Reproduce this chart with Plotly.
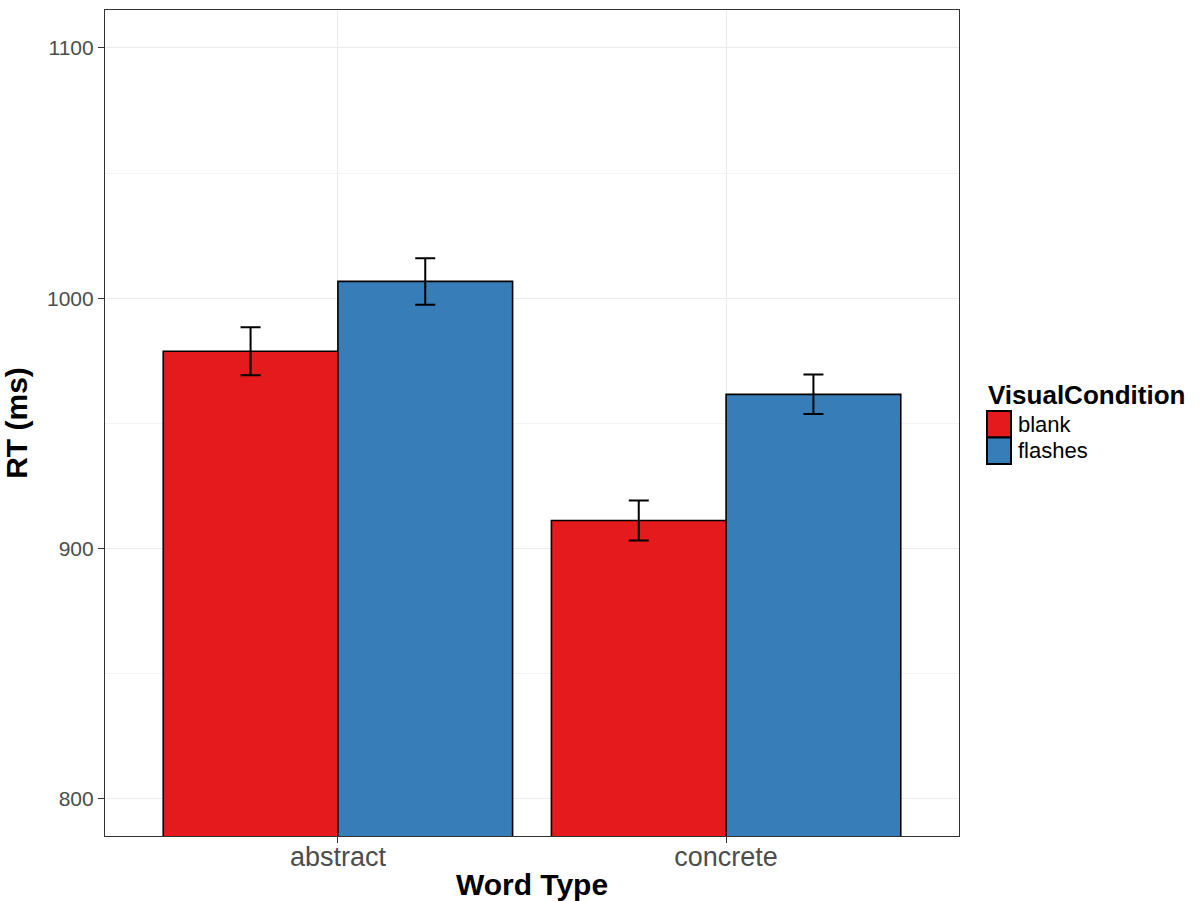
import plotly.graph_objects as go

# Mean reaction times by word type and visual condition, with error bars
word_types = ["abstract", "concrete"]
conditions = ["blank", "flashes"]
rt_blank = [978.8, 911.2]
rt_flashes = [1006.7, 961.6]
err_blank = [9.6, 8.0]
err_flashes = [9.3, 7.9]
colors = {"blank": "#E41A1C", "flashes": "#377EB8"}

y_ticks = [800, 900, 1000, 1100]

FONT = "Arial, Liberation Sans, sans-serif"

W, H = 1204, 901
ML, MR, MT, MB = 105, 245, 10, 65

fig = go.Figure()
for name, vals, errs in [("blank", rt_blank, err_blank),
                         ("flashes", rt_flashes, err_flashes)]:
    fig.add_trace(go.Bar(
        x=word_types, y=vals, name=name,
        marker=dict(color=colors[name], line=dict(color="black", width=1.6)),
        error_y=dict(type="data", array=errs, color="black",
                     thickness=2, width=10),
        showlegend=False,
    ))

fig.update_layout(
    width=W, height=H,
    margin=dict(l=ML, r=MR, t=MT, b=MB),
    paper_bgcolor="white", plot_bgcolor="white",
    barmode="group", bargap=0.1, bargroupgap=0,
    font=dict(family=FONT, color="#4D4D4D"),
)

fig.update_xaxes(
    range=[-0.6, 1.6], showgrid=True, gridcolor="#EBEBEB", gridwidth=1.2,
    showline=True, mirror=True, linecolor="#333333", linewidth=1.2,
    ticks="outside", ticklen=6, tickcolor="#333333", tickwidth=1.2,
    ticklabelstandoff=-10,
    tickfont=dict(size=27, color="#4D4D4D", family=FONT),
    title=dict(text="<b>Word Type</b>", font=dict(size=30, color="black", family=FONT),
               standoff=12),
    zeroline=False, automargin=False,
)
fig.update_yaxes(
    range=[785.2, 1115.1], tickvals=y_ticks, ticktext=[str(v) for v in y_ticks],
    showgrid=True, gridcolor="#EBEBEB", gridwidth=1.2,
    minor=dict(tickvals=[850, 950, 1050], showgrid=True, gridcolor="#F3F3F3", gridwidth=0.8),
    showline=True, mirror=True, linecolor="#333333", linewidth=1.2,
    ticks="outside", ticklen=6, tickcolor="#333333", tickwidth=1.2,
    tickfont=dict(size=21, color="#4D4D4D", family=FONT),
    title=dict(text="<b>RT (ms)</b>", font=dict(size=30, color="black", family=FONT),
               standoff=12),
    zeroline=False, automargin=False,
)

plot_w = W - ML - MR
plot_h = H - MT - MB


def px_x(x):
    return (x - ML) / plot_w


def px_y(y):
    return (H - MB - y) / plot_h


# Legend drawn as keys and labels to the right of the panel
fig.add_annotation(
    x=px_x(986), y=px_y(395), xref="paper", yref="paper", text="<b>VisualCondition</b>",
    showarrow=False, xanchor="left", yanchor="middle",
    font=dict(size=26, color="black", family=FONT),
)
key_top = 411
key_h = 26.5
for i, name in enumerate(conditions):
    y0 = key_top + i * key_h
    fig.add_shape(
        type="rect", xref="paper", yref="paper",
        x0=px_x(987), x1=px_x(1011), y0=px_y(y0), y1=px_y(y0 + key_h),
        fillcolor=colors[name], line=dict(color="black", width=2),
    )
    fig.add_annotation(
        x=px_x(1016), y=px_y(y0 + key_h / 2), xref="paper", yref="paper", text=name,
        showarrow=False, xanchor="left", yanchor="middle",
        font=dict(size=22, color="black", family=FONT),
    )

fig.write_html("out.html")
